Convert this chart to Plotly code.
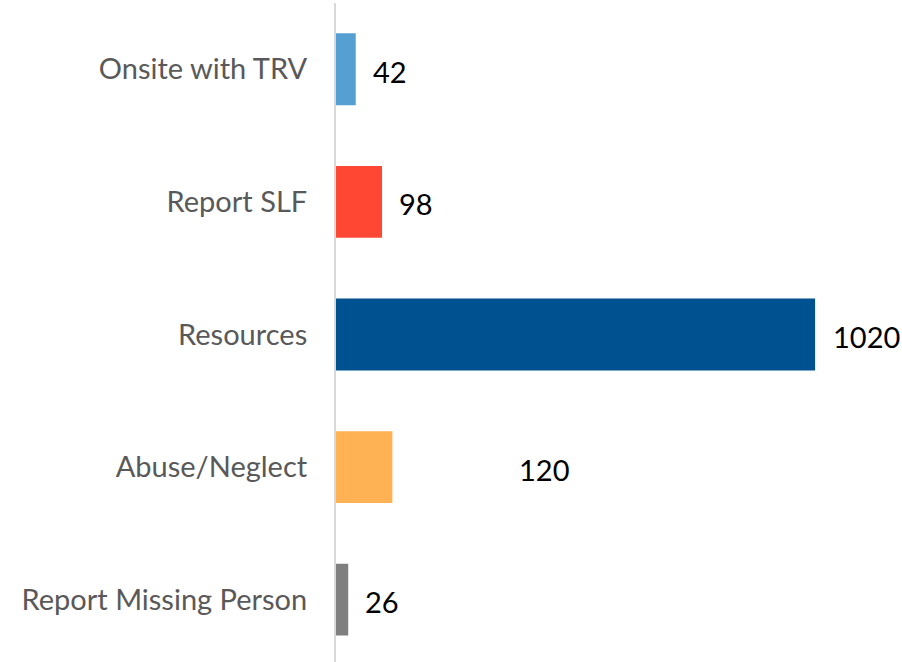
import plotly.graph_objects as go

categories = ["Onsite with TRV", "Report SLF", "Resources", "Abuse/Neglect", "Report Missing Person"]
values = [42, 98, 1020, 120, 26]
bar_colors = ["#559FD3", "#FF4733", "#00518F", "#FFB253", "#7F7F7F"]
label_shift = [15, 15, 16, 125, 15]

FONT = "Lato"

fig = go.Figure()
fig.add_trace(go.Bar(
    y=categories,
    x=values,
    orientation="h",
    marker=dict(color=bar_colors, line=dict(width=0)),
    hoverinfo="x+y",
))

for cat, val, sh in zip(categories, values, label_shift):
    fig.add_annotation(
        x=val, y=cat, text=str(val), showarrow=False,
        xanchor="left", yanchor="middle", xshift=sh, yshift=-2,
        font=dict(family=FONT, size=29, color="#000000"),
    )

fig.update_layout(
    width=902, height=662,
    margin=dict(l=336, r=0, t=3, b=0),
    paper_bgcolor="white", plot_bgcolor="white",
    bargap=0.458,
    showlegend=False,
    xaxis=dict(range=[0, 1205], visible=False, showgrid=False, zeroline=False),
    yaxis=dict(
        range=[4.47, -0.5],
        showline=True, linecolor="#D9D9D9", linewidth=2,
        showgrid=False, zeroline=False,
        ticks="outside", ticklen=0, ticklabelstandoff=21,
        tickfont=dict(family=FONT, size=29, color="#595959"),
    ),
)

fig.write_html(
    "out.html",
    config={"displayModeBar": False},
    post_script="document.body.style.margin='0';document.body.style.overflow='hidden';",
)
